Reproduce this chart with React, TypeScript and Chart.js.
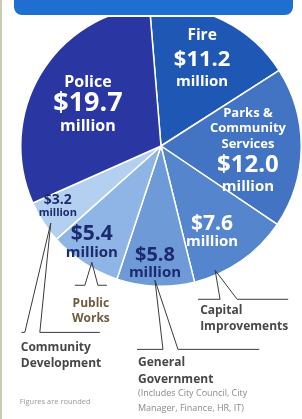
import React, { useEffect, useRef } from 'react';
import { Chart, registerables } from 'chart.js';

Chart.register(...registerables);

// ---- Data ----
const categories = [
  'Fire',
  'Parks & Community Services',
  'Capital Improvements',
  'General Government',
  'Public Works',
  'Community Development',
  'Police',
];
const valuesMillions = [11.2, 12.0, 7.6, 5.8, 5.4, 3.2, 19.7];
const sliceColors = ['#1f58b4', '#4374c3', '#5585cd', '#6f9ad8', '#8fb5e6', '#b3d0f1', '#2a37a3'];
const unitLabel = 'million';
const insideNames: Record<number, string[]> = {
  0: ['Fire'],
  1: ['Parks &', 'Community', 'Services'],
  6: ['Police'],
};
const outsideNames: Record<number, string[]> = {
  2: ['Capital', 'Improvements'],
  3: ['General', 'Government'],
  4: ['Public', 'Works'],
  5: ['Community', 'Development'],
};
const generalNote = ['(Includes City Council, City', 'Manager, Finance, HR, IT)'];
const footnote = 'Figures are rounded';

// ---- Layout of annotations (relative to pie centre, in radius units) ----
const insideLayout: Record<number, any> = {
  0: { fx: 0.293, fy: -0.614, vSize: 22, uSize: 15, uDy: 22, nSize: 15.5, nDys: [-24], color: '#ffffff' },
  1: { fx: 0.62, fy: 0.136, vSize: 24, uSize: 15, uDy: 22, nSize: 13, nDys: [-52, -37, -21], color: '#ffffff' },
  2: { fx: 0.364, fy: 0.557, vSize: 21, uSize: 15, uDy: 18, color: '#ffffff' },
  3: { fx: -0.043, fy: 0.779, vSize: 20, uSize: 15, uDy: 17, color: '#1c2a6e' },
  4: { fx: -0.493, fy: 0.629, vSize: 21, uSize: 15, uDy: 19, color: '#1c2a6e' },
  5: { fx: -0.736, fy: 0.386, vSize: 14, uSize: 11, uDy: 13, color: '#1c2a6e' },
  6: { fx: -0.521, fy: -0.307, vSize: 27, uSize: 16, uDy: 23, nSize: 16, nDys: [-21], color: '#ffffff' },
};

const leaderLayout: Record<number, any> = {
  2: { ax: 0.386, ay: 0.886, y: 1.093, lL: 0.421, lR: 0.543, eL: 0.264, eR: 0.907,
       text: { x: 0.279, ys: [1.171, 1.286], align: 'left', color: '#474747' } },
  3: { ax: -0.043, ay: 0.957, y: 1.45, lL: 0.014, lR: 0.121, eL: -0.171, eR: 0.7,
       text: { x: -0.164, ys: [1.543, 1.664], align: 'left', color: '#474747' } },
  4: { ax: -0.493, ay: 0.829, y: 0.993, lL: -0.543, lR: -0.45, eL: -0.614, eR: -0.386,
       text: { x: -0.5, ys: [1.121, 1.229], align: 'center', color: '#6e5b3c' } },
  5: { ax: -0.786, ay: 0.55, y: 1.329, lL: -0.971, lR: -0.864, eL: -0.995, eR: -0.436,
       text: { x: -1.0, ys: [1.436, 1.55], align: 'left', color: '#474747' } },
};

const labelPlugin = {
  id: 'budgetLabels',
  afterDatasetsDraw(chart: any) {
    const ctx: CanvasRenderingContext2D = chart.ctx;
    const arcs = chart.getDatasetMeta(0).data;
    const cx = arcs[0].x;
    const cy = arcs[0].y;
    const r = arcs[0].outerRadius;
    const X = (f: number) => cx + f * r;
    const Y = (f: number) => cy + f * r;
    ctx.save();
    ctx.textAlign = 'center';
    ctx.textBaseline = 'middle';
    // inside labels
    valuesMillions.forEach((v, i) => {
      const L = insideLayout[i];
      if (!L) return;
      const x = X(L.fx);
      const y = Y(L.fy);
      ctx.fillStyle = L.color;
      ctx.font = `bold ${L.vSize}px "Open Sans"`;
      ctx.fillText('$' + v.toFixed(1), x, y);
      ctx.font = `bold ${L.uSize}px "Open Sans"`;
      ctx.fillText(unitLabel, x, y + L.uDy);
      const names = insideNames[i];
      if (names) {
        ctx.font = `bold ${L.nSize}px "Open Sans"`;
        names.forEach((n, k) => ctx.fillText(n, x, y + L.nDys[k]));
      }
    });
    // leaders and outside labels
    ctx.strokeStyle = '#3a3a3a';
    ctx.lineWidth = 1;
    Object.keys(leaderLayout).forEach((key) => {
      const i = Number(key);
      const L = leaderLayout[i];
      const ax = X(L.ax), ay = Y(L.ay), yy = Y(L.y);
      ctx.beginPath();
      ctx.moveTo(X(L.eL), yy);
      ctx.lineTo(X(L.lL), yy);
      ctx.lineTo(ax, ay);
      ctx.lineTo(X(L.lR), yy);
      ctx.lineTo(X(L.eR), yy);
      ctx.stroke();
      const T = L.text;
      ctx.fillStyle = T.color;
      ctx.textAlign = T.align;
      ctx.font = 'bold 12px "Open Sans"';
      outsideNames[i].forEach((n, k) => ctx.fillText(n, X(T.x), Y(T.ys[k])));
      if (i === 3) {
        ctx.font = '9px "Open Sans"';
        ctx.fillStyle = '#8a8a8a';
        generalNote.forEach((n, k) => ctx.fillText(n, X(T.x), Y(1.764 + k * 0.107)));
      }
    });
    ctx.textAlign = 'left';
    ctx.font = '7.5px "Open Sans"';
    ctx.fillStyle = '#9a9a9a';
    ctx.fillText(footnote, X(-1.007), Y(1.821));
    ctx.restore();
  },
  afterDraw(chart: any) {
    const ctx: CanvasRenderingContext2D = chart.ctx;
    ctx.save();
    // header bar
    ctx.beginPath();
    ctx.roundRect(13, -12, 281, 28, 9);
    ctx.fillStyle = '#1f6fd1';
    ctx.fill();
    ctx.lineWidth = 2;
    ctx.strokeStyle = '#ffffff';
    ctx.stroke();
    // left frame line
    ctx.fillStyle = '#c9cdb0';
    ctx.fillRect(0, 0, 2, chart.height);
    ctx.restore();
  },
};

export default function App() {
  const ref = useRef<HTMLCanvasElement>(null);
  useEffect(() => {
    document.body.style.margin = '0';
    const chart = new Chart(ref.current!, {
      type: 'pie',
      data: {
        labels: categories,
        datasets: [
          {
            data: valuesMillions,
            backgroundColor: sliceColors,
            borderColor: '#ffffff',
            borderWidth: 1.5,
          },
        ],
      },
      options: {
        responsive: false,
        animation: false,
        rotation: -4.7,
        layout: { padding: { left: 20, right: 0, top: 5, bottom: 132 } },
        plugins: { legend: { display: false }, tooltip: { enabled: false } },
      },
      plugins: [labelPlugin],
    });
    return () => chart.destroy();
  }, []);
  return (
    <div style={{ position: 'absolute', left: 0, top: 0, width: 302, height: 419, background: '#fff' }}>
      <canvas ref={ref} width={302} height={419} style={{ display: 'block' }} />
    </div>
  );
}
